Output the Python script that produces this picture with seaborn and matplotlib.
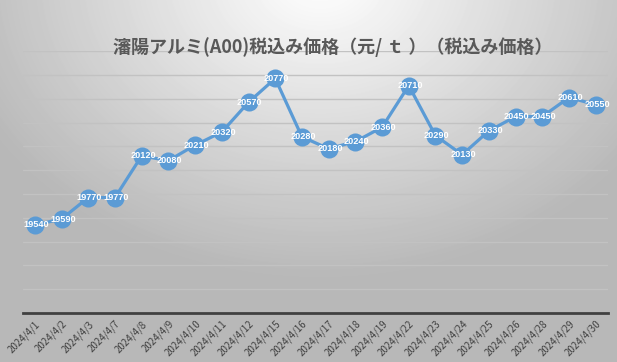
import numpy as np
import pandas as pd
import seaborn as sns
from matplotlib import pyplot as plt

# data
dates = ["2024/4/1", "2024/4/2", "2024/4/3", "2024/4/7", "2024/4/8", "2024/4/9",
         "2024/4/10", "2024/4/11", "2024/4/12", "2024/4/15", "2024/4/16", "2024/4/17",
         "2024/4/18", "2024/4/19", "2024/4/22", "2024/4/23", "2024/4/24", "2024/4/25",
         "2024/4/26", "2024/4/28", "2024/4/29", "2024/4/30"]
prices = [19540, 19590, 19770, 19770, 20120, 20080, 20210, 20320, 20570, 20770, 20280,
          20180, 20240, 20360, 20710, 20290, 20130, 20330, 20450, 20450, 20610, 20550]
title = "瀋陽アルミ(A00)税込み価格（元/ ｔ ）（税込み価格）"

sns.set_theme(style="white")
plt.rcParams['font.family'] = ['Noto Sans CJK JP', 'DejaVu Sans']

df = pd.DataFrame({"pos": np.arange(len(dates)), "date": dates, "price": prices})

fig = plt.figure(figsize=(6.17, 3.62), dpi=100)

# radial gray background
bg = fig.add_axes([0, 0, 1, 1], zorder=-10)
yy, xx = np.mgrid[0:362, 0:617]
r = np.sqrt(((xx - 320) / 617.0) ** 2 + ((yy + 20) / 362.0 * 0.75) ** 2)
shade = np.clip(1.0 - 0.45 * r, 0.72, 1.0)
bg.imshow(shade, cmap="gray", vmin=0, vmax=1, aspect="auto", interpolation="bilinear")
bg.axis("off")

ax = fig.add_axes([0.037, 0.135, 0.948, 0.724])
ax.patch.set_alpha(0)

sns.lineplot(ax=ax, data=df, x="pos", y="price", color="#5b9bd5", linewidth=2.3,
             marker="o", markersize=13, markeredgewidth=0, zorder=3)

for x, y in zip(df["pos"], df["price"]):
    ax.text(x + 0.05, y, str(y), color="white", fontsize=6.6, fontweight="bold",
            ha="center", va="center", zorder=4, family=["Liberation Sans"])

ax.set_ylim(18800, 21000)
ax.set_yticks(np.arange(18800, 21001, 200))
ax.set_yticklabels([])
ax.tick_params(axis="y", length=0)
ax.yaxis.grid(True, color="#c2c2c2", linewidth=1)
ax.set_axisbelow(True)

ax.set_xlim(-0.45, len(dates) - 0.55)
ax.set_xticks(df["pos"])
ax.set_xticklabels(dates, rotation=45, ha="right", rotation_mode="anchor",
                   fontsize=7, color="#404040")
ax.tick_params(axis="x", length=0, pad=4)
for lbl in ax.get_xticklabels():
    lbl.set_x(lbl.get_position()[0])
ax.set_xlabel("")
ax.set_ylabel("")

for s in ["top", "right", "left"]:
    ax.spines[s].set_visible(False)
ax.spines["bottom"].set_color("#404040")
ax.spines["bottom"].set_linewidth(2)

fig.text(0.54, 0.87, title, ha="center", va="center", fontsize=13,
         fontweight="bold", color="#595959")

plt.savefig("out.png", dpi=100)
